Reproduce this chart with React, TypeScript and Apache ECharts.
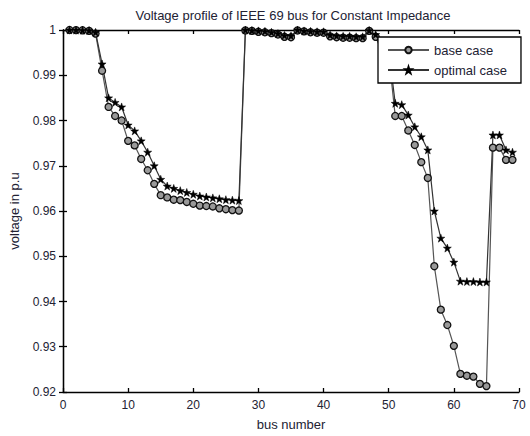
import React, { useEffect, useRef } from "react";
import * as echarts from "echarts";

const busNumbers = [
  1, 2, 3, 4, 5, 6, 7, 8, 9, 10, 11, 12, 13, 14, 15, 16, 17, 18, 19, 20, 21, 22, 23,
  24, 25, 26, 27, 28, 29, 30, 31, 32, 33, 34, 35, 36, 37, 38, 39, 40, 41, 42, 43, 44,
  45, 46, 47, 48, 49, 50, 51, 52, 53, 54, 55, 56, 57, 58, 59, 60, 61, 62, 63, 64, 65,
  66, 67, 68, 69,
];

const baseCase = [
  1.0, 0.99997, 0.99993, 0.9998, 0.9992, 0.991, 0.983, 0.981, 0.98, 0.9755, 0.9745,
  0.9715, 0.969, 0.966, 0.9635, 0.963, 0.9625, 0.9624, 0.962, 0.9616, 0.9612, 0.9611,
  0.961, 0.9606, 0.9604, 0.9602, 0.9601, 0.9999, 0.9998, 0.9996, 0.9995, 0.9993, 0.999,
  0.9985, 0.9984, 0.9999, 0.9997, 0.9995, 0.9994, 0.9994, 0.9986, 0.9984, 0.9983,
  0.9983, 0.9982, 0.9982, 0.9998, 0.9985, 0.995, 0.9945, 0.981, 0.981, 0.9778, 0.9746,
  0.9708, 0.9673, 0.9478, 0.9382, 0.9348, 0.9302, 0.924, 0.9236, 0.9234, 0.9218,
  0.9213, 0.974, 0.974, 0.9713, 0.9713,
];

const optimalCase = [
  1.0, 0.99998, 0.99995, 0.9999, 0.9995, 0.9925, 0.985, 0.984, 0.983, 0.979, 0.9777,
  0.9755, 0.973, 0.97, 0.967, 0.9655, 0.965, 0.9645, 0.9641, 0.9637, 0.9633, 0.9631,
  0.9629, 0.9627, 0.9625, 0.9624, 0.9623, 1.0, 0.9999, 0.9998, 0.9997, 0.9995, 0.9992,
  0.9988, 0.9987, 1.0, 0.9998, 0.9997, 0.9996, 0.9996, 0.9989, 0.9987, 0.9986, 0.9986,
  0.9985, 0.9985, 0.9999, 0.999, 0.996, 0.9955, 0.9838, 0.9835, 0.9812, 0.9786, 0.9764,
  0.9735, 0.96, 0.954, 0.9518, 0.9487, 0.9445, 0.9444, 0.9444, 0.9443, 0.9443, 0.9768,
  0.9768, 0.9735, 0.973,
];

const seriesNames = ["base case", "optimal case"];
const titleText = "Voltage profile of IEEE 69 bus for Constant Impedance";
const xAxisName = "bus number";
const yAxisName = "voltage in p.u";

function starPath(points: number, outer: number, inner: number) {
  let d = "";
  for (let i = 0; i < points * 2; i++) {
    const r = i % 2 === 0 ? outer : inner;
    const a = (Math.PI * i) / points - Math.PI / 2;
    const x = (r * Math.cos(a)).toFixed(2);
    const y = (r * Math.sin(a)).toFixed(2);
    d += (i === 0 ? "M" : "L") + x + "," + y + " ";
  }
  return "path://" + d + "Z";
}

const TEXT = "#222233";
const FONT = "Liberation Sans, Arial, sans-serif";

export default function App() {
  const ref = useRef<HTMLDivElement>(null);
  useEffect(() => {
    if (!ref.current) return;
    const chart = echarts.init(ref.current, null, { renderer: "svg" });
    const fmt = (v: number) => String(+v.toFixed(2));
    const axisLine = { show: true, lineStyle: { color: "#000", width: 1.3 } };
    const tick = { show: true, inside: true, length: 4, lineStyle: { color: "#000", width: 1.3 } };
    const star = starPath(5, 10, 4);
    chart.setOption({
      animation: false,
      backgroundColor: "#fff",
      title: {
        text: titleText,
        left: 288,
        top: 4,
        textAlign: "center",
        textStyle: { fontSize: 13, fontWeight: "normal", color: TEXT, fontFamily: FONT },
      },
      legend: {
        orient: "vertical",
        left: 378,
        top: 37,
        padding: [6, 14, 6, 9],
        itemWidth: 41,
        itemHeight: 8,
        itemGap: 6,
        backgroundColor: "#fff",
        borderColor: "#000",
        borderWidth: 1.3,
        borderRadius: 0,
        textStyle: { fontSize: 13, color: TEXT, fontFamily: FONT, lineHeight: 14 },
        data: seriesNames,
        z: 10,
      },
      grid: { left: 63, top: 30, right: 11, bottom: 44, containLabel: false },
      xAxis: [
        {
          type: "value",
          position: "bottom",
          min: 0,
          max: 70,
          interval: 10,
          name: xAxisName,
          nameLocation: "middle",
          nameGap: 26,
          nameTextStyle: { fontSize: 13, color: TEXT, fontFamily: FONT },
          axisLine,
          axisTick: tick,
          axisLabel: { fontSize: 12, color: TEXT, margin: 7, fontFamily: FONT },
          splitLine: { show: false },
        },
        {
          type: "value",
          position: "top",
          min: 0,
          max: 70,
          interval: 10,
          axisLine,
          axisTick: tick,
          axisLabel: { show: false },
          splitLine: { show: false },
        },
      ],
      yAxis: [
        {
          type: "value",
          position: "left",
          min: 0.92,
          max: 1,
          interval: 0.01,
          name: yAxisName,
          nameLocation: "middle",
          nameRotate: 90,
          nameGap: 42,
          nameTextStyle: { fontSize: 13, color: TEXT, fontFamily: FONT },
          axisLine,
          axisTick: tick,
          axisLabel: { fontSize: 12, color: TEXT, margin: 7, formatter: fmt, fontFamily: FONT },
          splitLine: { show: false },
        },
        {
          type: "value",
          position: "right",
          min: 0.92,
          max: 1,
          interval: 0.01,
          axisLine,
          axisTick: tick,
          axisLabel: { show: false },
          splitLine: { show: false },
        },
      ],
      series: [
        {
          name: seriesNames[0],
          type: "line",
          xAxisIndex: 0,
          yAxisIndex: 0,
          data: busNumbers.map((b, i) => [b, baseCase[i]]),
          symbol: "circle",
          symbolSize: 7,
          lineStyle: { color: "#555", width: 1.2 },
          itemStyle: { color: "#999", borderColor: "#111", borderWidth: 1.3 },
          clip: false,
        },
        {
          name: seriesNames[1],
          type: "line",
          xAxisIndex: 0,
          yAxisIndex: 0,
          data: busNumbers.map((b, i) => [b, optimalCase[i]]),
          symbol: star,
          symbolSize: 8,
          lineStyle: { color: "#333", width: 1.2 },
          itemStyle: { color: "#000", borderColor: "#000", borderWidth: 0.5 },
          clip: false,
        },
      ],
    });
    return () => chart.dispose();
  }, []);
  return <div ref={ref} style={{ position: "fixed", left: 0, top: 0, width: 530, height: 436 }} />;
}
